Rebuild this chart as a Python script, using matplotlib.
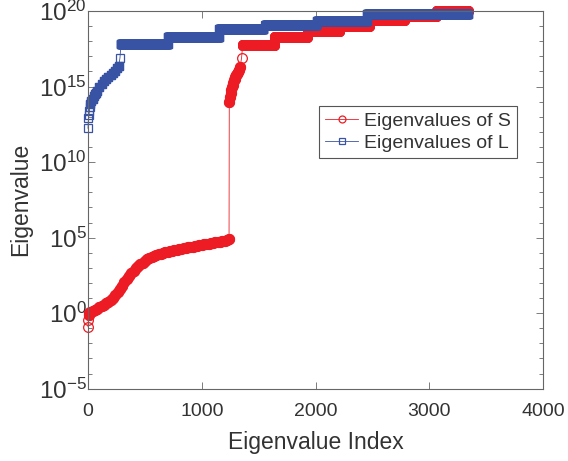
import matplotlib
matplotlib.use("Agg")
import matplotlib.pyplot as plt
from matplotlib.ticker import FixedLocator, NullFormatter
import numpy as np

plt.rcParams["font.family"] = ["Liberation Sans", "DejaVu Sans"]
plt.rcParams["mathtext.fontset"] = "custom"
plt.rcParams["mathtext.rm"] = "Liberation Sans"

# ---- data (log10 of eigenvalue) ----
# S: smooth low part
s_low_idx = [0, 3, 6, 10, 20] + list(range(40, 1241, 20))
s_low_log = [-0.9, -0.45, -0.15, 0.0, 0.08,
             0.15, 0.22, 0.3, 0.4, 0.48,
             0.56, 0.64, 0.74, 0.86, 1.0,
             1.18, 1.38, 1.6, 1.82, 2.03,
             2.24, 2.44, 2.63, 2.8, 2.96,
             3.1, 3.23, 3.35, 3.46, 3.56,
             3.64, 3.71, 3.78, 3.84, 3.89,
             3.94, 3.99, 4.03, 4.07, 4.1,
             4.14, 4.17, 4.2, 4.23, 4.26,
             4.29, 4.32, 4.35, 4.38, 4.41,
             4.44, 4.47, 4.5, 4.53, 4.55,
             4.58, 4.61, 4.64, 4.66, 4.69,
             4.72, 4.74, 4.77, 4.8, 4.84,
             4.88]
# S: after the jump
s_rise_idx = [1242, 1248, 1254, 1260, 1266, 1272, 1278, 1284, 1290, 1296,
              1302, 1310, 1318, 1328, 1338, 1350]
s_rise_log = [14.0, 14.3, 14.55, 14.78, 14.95, 15.1, 15.25, 15.4, 15.5, 15.62,
              15.75, 15.85, 15.95, 16.1, 16.3, 16.9]
# S: plateaus (first index, last index, log10 level)
s_step_start = [1360, 1640, 1930, 2245, 2510, 2800, 3065]
s_step_end = [1635, 1925, 2210, 2470, 2780, 3060, 3340]
s_step_level = [17.74, 18.3, 18.7, 19.04, 19.4, 19.7, 19.98]

# L: smooth low part
l_low_idx = [0, 4, 8, 12, 16, 20, 30, 40, 50, 60, 70, 80, 100, 120, 140,
             160, 180, 200, 220, 240, 255, 270, 281]
l_low_log = [12.24, 12.9, 13.1, 13.35, 13.65, 13.85, 14.05, 14.2, 14.35, 14.48,
             14.6, 14.7, 14.95, 15.15, 15.35, 15.5, 15.62, 15.75, 15.9, 16.05,
             16.2, 16.35, 16.9]
# L: plateaus
l_step_start = [290, 705, 1155, 1560, 2015, 2455]
l_step_end = [700, 1150, 1540, 2005, 2450, 3340]
l_step_level = [17.8, 18.26, 18.82, 19.05, 19.35, 19.78]

RED = "#ED1C24"
BLUE = "#3953A4"
GREY = "#333333"


def build_series(low_idx, low_log, starts, ends, levels, rise_idx=(), rise_log=()):
    xs = list(low_idx) + list(rise_idx)
    ys = list(low_log) + list(rise_log)
    for a, b, lev in zip(starts, ends, levels):
        run = np.arange(a, b + 1)
        xs.extend(run.tolist())
        ys.extend([lev] * len(run))
    return np.array(xs), 10.0 ** np.array(ys)


s_x, s_y = build_series(s_low_idx, s_low_log, s_step_start, s_step_end,
                        s_step_level, s_rise_idx, s_rise_log)
l_x, l_y = build_series(l_low_idx, l_low_log, l_step_start, l_step_end,
                        l_step_level)

fig = plt.figure(figsize=(5.68, 4.61), dpi=100)
ax = fig.add_axes([88 / 568, (461 - 388.7) / 461, 455 / 568, 377.7 / 461])

ax.semilogy(s_x, s_y, color=RED, linewidth=0.6, marker="o", markersize=7,
            markerfacecolor="none", markeredgewidth=0.9, label="Eigenvalues of S",
            clip_on=False)
# the crowded stretches read as a solid band in the original
n_s = len(s_low_idx) + len(s_rise_idx) - 1
ax.semilogy(s_x[2:n_s], s_y[2:n_s], linestyle="none", marker="o", markersize=7.2,
            color=RED, markeredgewidth=0.9, clip_on=False)

ax.semilogy(l_x, l_y, color=BLUE, linewidth=0.6, marker="s", markersize=6,
            markerfacecolor="none", markeredgewidth=0.9, label="Eigenvalues of L",
            clip_on=False)
n_l = len(l_low_idx) - 1
ax.semilogy(l_x[5:n_l], l_y[5:n_l], linestyle="none", marker="s", markersize=6,
            color=BLUE, markeredgewidth=0.9, clip_on=False)

ax.set_xlim(0, 4000)
ax.set_ylim(1e-5, 1e20)
ax.set_xticks([0, 1000, 2000, 3000, 4000])
major = [10.0 ** p for p in range(-5, 21, 5)]
ax.yaxis.set_major_locator(FixedLocator(major))
ax.yaxis.set_minor_locator(FixedLocator([10.0 ** p for p in range(-5, 21)]))
ax.yaxis.set_minor_formatter(NullFormatter())
ax.set_yticklabels([r"$\mathregular{10^{%d}}$" % p for p in range(-5, 21, 5)])

ax.tick_params(which="both", direction="in", top=True, right=True,
               colors="#666666", labelcolor=GREY, labelsize=14, width=0.6)
ax.tick_params(which="major", length=5)
ax.tick_params(which="minor", length=3)
ax.tick_params(axis="x", which="minor", bottom=False, top=False)
ax.tick_params(axis="x", pad=10)
ax.tick_params(axis="y", pad=1, labelsize=17.5)
for sp in ax.spines.values():
    sp.set_color("#666666")
    sp.set_linewidth(0.8)

ax.set_xlabel("Eigenvalue Index", fontsize=16.5, color=GREY, labelpad=8)
ax.set_ylabel("Eigenvalue", fontsize=16.5, color=GREY, labelpad=5)

leg = ax.legend(loc="upper left", bbox_to_anchor=(0.508, 0.748),
                borderaxespad=0, fontsize=14, fancybox=False, framealpha=1,
                edgecolor="#555555", handlelength=1.7, handletextpad=0.3,
                borderpad=0.3, labelspacing=0.25)
leg.get_frame().set_linewidth(0.8)
for t in leg.get_texts():
    t.set_color(GREY)
for h in leg.legend_handles:
    h.set_markersize(5)

fig.savefig("out.png", dpi=100)
